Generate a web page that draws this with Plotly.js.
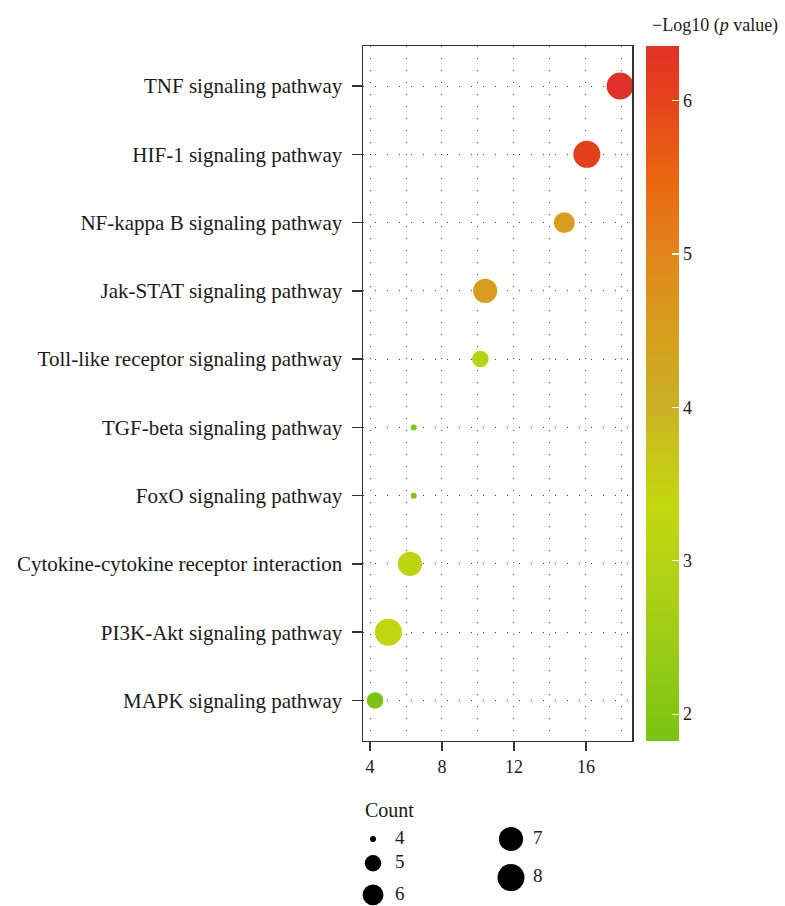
<!DOCTYPE html>
<html>
<head>
<meta charset="utf-8">
<script src="https://cdn.plot.ly/plotly-3.0.1.min.js"></script>
<style>
  html, body { margin: 0; padding: 0; background: #ffffff; }
  #chart { width: 785px; height: 906px; }
</style>
</head>
<body>
<div id="chart"></div>
<script>
// ---- data ----
const pathways = [
  'TNF signaling pathway',
  'HIF-1 signaling pathway',
  'NF-kappa B signaling pathway',
  'Jak-STAT signaling pathway',
  'Toll-like receptor signaling pathway',
  'TGF-beta signaling pathway',
  'FoxO signaling pathway',
  'Cytokine-cytokine receptor interaction',
  'PI3K-Akt signaling pathway',
  'MAPK signaling pathway'
];
const xValues   = [17.9, 16.05, 14.8, 10.4, 10.13, 6.43, 6.43, 6.22, 5.02, 4.28];
const counts    = [8, 8, 6, 7, 5, 4, 4, 7, 8, 5];
const negLog10P = [6.354, 6.05, 4.52, 4.55, 3.05, 1.87, 1.87, 3.2, 3.3, 1.823];
const xTickVals = [4, 8, 12, 16];
const cbTickVals = [2, 3, 4, 5, 6];
const legendCounts = [4, 5, 6, 7, 8];

// ---- styling ----
const FONT = 'Liberation Serif, Times New Roman, serif';
const TXT = '#1a1a1a';
const cMin = 1.823, cMax = 6.354;
const cbStops  = [1.823, 2.0, 2.5, 3.0, 3.35, 3.7, 4.0, 4.5, 5.0, 5.5, 6.0, 6.354];
const cbColors = ['#7CC314', '#84C613', '#9DCD17', '#B5D315', '#C2D70D', '#C8C51A',
                  '#CAB024', '#D69F1C', '#E2861C', '#EA6512', '#E5431A', '#DF3127'];
const colorscale = cbStops.map((v, i) => [(v - cMin) / (cMax - cMin), cbColors[i]]);

// size scale (area-like, ggplot style): count 4..8 -> diameter px
const cntMin = 4, cntMax = 8;
function diam(c) {
  const s = 1 + 5 * Math.sqrt((c - cntMin) / (cntMax - cntMin));
  return 4.2 * s + 1.8;
}

const mainTrace = {
  type: 'scatter', mode: 'markers',
  x: xValues, y: pathways,
  xaxis: 'x', yaxis: 'y',
  cliponaxis: false,
  marker: {
    size: counts.map(diam),
    color: negLog10P,
    cmin: cMin, cmax: cMax,
    colorscale: colorscale,
    line: { width: 0 },
    opacity: 1,
    colorbar: {
      x: 1.052, xanchor: 'left', xpad: 0,
      y: 0.5956, yanchor: 'middle', ypad: 0,
      thickness: 33, thicknessmode: 'pixels',
      len: 695, lenmode: 'pixels',
      outlinewidth: 0,
      ticks: 'inside', ticklen: 7, tickwidth: 1.2, tickcolor: '#ffffff',
      tickvals: cbTickVals,
      tickprefix: '\u00a0',
      tickfont: { family: FONT, size: 18, color: TXT }
    }
  },
  showlegend: false,
  hoverinfo: 'x+y'
};

// size legend (Count) on a hidden pixel-mapped axis pair
const colOf = i => (i < 3 ? 0 : 1);
const colX = [373, 511];
const legTop = 839, legGap = 13;
const legX = [], legY = [];
(function () {
  const last = {};
  legendCounts.forEach((c, i) => {
    const col = colOf(i);
    let y;
    if (last[col] === undefined) y = legTop;
    else y = last[col].y + diam(last[col].c) / 2 + legGap + diam(c) / 2;
    last[col] = { y: y, c: c };
    legX.push(colX[col]);
    legY.push(y);
  });
})();

const legMarkers = {
  type: 'scatter', mode: 'markers',
  x: legX, y: legY, xaxis: 'x2', yaxis: 'y2',
  cliponaxis: false,
  marker: { size: legendCounts.map(diam), color: '#000000', opacity: 1, line: { width: 0 } },
  showlegend: false, hoverinfo: 'skip'
};
const legText = {
  type: 'scatter', mode: 'text',
  x: legX.map(v => v + 22), y: legY, xaxis: 'x2', yaxis: 'y2',
  cliponaxis: false,
  text: legendCounts.map(String),
  textposition: 'middle right',
  textfont: { family: FONT, size: 19, color: TXT },
  showlegend: false, hoverinfo: 'skip'
};

const gridDash = '1px,11px';
const layout = {
  width: 785, height: 906,
  margin: { l: 363, r: 153, t: 46, b: 0, pad: 0 },
  paper_bgcolor: '#ffffff', plot_bgcolor: '#ffffff',
  font: { family: FONT, color: TXT },
  showlegend: false,
  xaxis: {
    domain: [0, 1], anchor: 'y',
    range: [3.61, 18.56],
    tickvals: xTickVals,
    ticktext: xTickVals.map(String),
    ticks: 'outside', ticklen: 9, tickwidth: 1.5, tickcolor: '#333333',
    tickfont: { family: FONT, size: 18, color: TXT },
    showline: true, linecolor: '#333333', linewidth: 1.5, mirror: true,
    showgrid: true, gridcolor: '#444444', gridwidth: 1, griddash: gridDash,
    minor: { dtick: 2, tick0: 4, showgrid: true, gridcolor: '#444444', gridwidth: 1, griddash: gridDash, ticks: '' },
    zeroline: false, fixedrange: true
  },
  yaxis: {
    domain: [0.1922, 1], anchor: 'x',
    type: 'category',
    categoryorder: 'array', categoryarray: pathways,
    range: [9.59, -0.587],
    ticks: 'outside', ticklen: 10, tickwidth: 1.5, tickcolor: '#333333',
    ticklabelstandoff: 5,
    tickfont: { family: FONT, size: 21, color: TXT },
    showline: true, linecolor: '#333333', linewidth: 1.5, mirror: true,
    showgrid: true, gridcolor: '#444444', gridwidth: 1, griddash: gridDash,
    zeroline: false, fixedrange: true
  },
  xaxis2: {
    domain: [0, 1], anchor: 'y2', range: [363, 632],
    visible: false, fixedrange: true
  },
  yaxis2: {
    domain: [0, 0.15], anchor: 'x2', range: [906, 777],
    visible: false, fixedrange: true
  },
  annotations: [{
    text: 'Count', xref: 'x2', yref: 'y2', x: 363, y: 810,
    xanchor: 'left', yanchor: 'middle', showarrow: false,
    font: { family: FONT, size: 20, color: TXT }
  }, {
    text: '\u2212Log10 (<i>p</i> value)', xref: 'paper', yref: 'paper',
    x: 1.0669, y: 1.0244, xanchor: 'left', yanchor: 'middle', showarrow: false,
    font: { family: FONT, size: 18, color: TXT }
  }]
};

Plotly.newPlot('chart', [mainTrace, legMarkers, legText], layout, { displayModeBar: false, staticPlot: true });
</script>
</body>
</html>
